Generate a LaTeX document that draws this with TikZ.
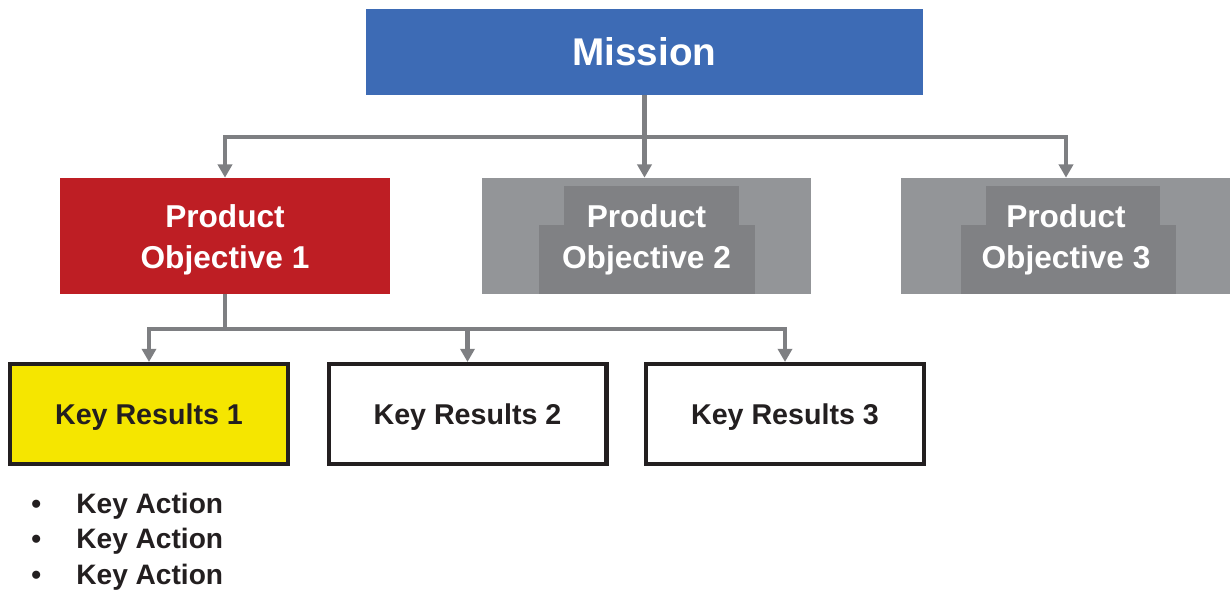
\documentclass[tikz,border=0pt]{standalone}
\usepackage{fontspec}
\setmainfont{Liberation Sans}
\usetikzlibrary{arrows.meta}

\definecolor{missionblue}{HTML}{3D6BB5}
\definecolor{objred}{HTML}{BE1E24}
\definecolor{objgrey}{HTML}{939598}
\definecolor{objgreydark}{HTML}{808184}
\definecolor{resyellow}{HTML}{F5E600}
\definecolor{linkgrey}{HTML}{7E7F82}
\definecolor{inkdark}{HTML}{231F20}

\tikzset{
  missionbox/.style={fill=missionblue, text=white, minimum width=11.14cm, minimum height=1.72cm,
    font=\fontsize{22}{26}\selectfont\bfseries},
  objbox/.style={minimum width=6.6cm, minimum height=2.32cm},
  objtext/.style={text=white, align=center, font=\fontsize{18}{23}\selectfont\bfseries},
  resbox/.style={draw=inkdark, line width=2.3pt, fill=white, text=inkdark, minimum width=5.56cm,
    minimum height=2cm, text depth=0pt, font=\fontsize{16.3}{19}\selectfont\bfseries},
  link/.style={draw=linkgrey, line width=2.5pt},
  linkarrow/.style={link, -{Triangle[width=8pt,length=7.5pt]}},
  actionitem/.style={anchor=base west, text=inkdark, font=\fontsize{16}{19}\selectfont\bfseries, inner sep=0pt}
}

\begin{document}
\begin{tikzpicture}[x=0.02cm,y=-0.02cm]

\useasboundingbox (0,0) rectangle (1230,590);

\node[missionbox] (mission) at (644.5,52) {Mission};

% objectives
\node[objbox, fill=objred] (po1) at (225,236) {};
\node[objtext] (po1text) at (225,240) {Product\\Objective 1};

\node[objbox, fill=objgrey] (po2) at (646.5,236) {};
\fill[objgreydark] (564,186) rectangle (739,294);
\fill[objgreydark] (539,225) rectangle (755,294);
\node[objtext] (po2text) at (646.5,240) {Product\\Objective 2};

\node[objbox, fill=objgrey] (po3) at (1066,236) {};
\fill[objgreydark] (986,186) rectangle (1160,294);
\fill[objgreydark] (961,225) rectangle (1176,294);
\node[objtext] (po3text) at (1066,240) {Product\\Objective 3};

% key results
\node[resbox, fill=resyellow] (kr1) at (149,414) {Key Results 1};
\node[resbox] (kr2) at (467.5,414) {Key Results 2};
\node[resbox] (kr3) at (785,414) {Key Results 3};

\coordinate (topbus) at (644.5,137);
\coordinate (midbus) at (225,329);

\draw[link] (mission.south) -- (topbus);
\draw[linkarrow] (topbus) -| (po1.north);
\draw[linkarrow] (topbus) -- (po2.north -| topbus);
\draw[linkarrow] (topbus) -| (po3.north);

\draw[link] (po1.south) -- (midbus);
\draw[linkarrow] (midbus) -| (kr1.north);
\draw[linkarrow] (midbus) -| (kr2.north);
\draw[linkarrow] (midbus) -| (kr3.north);

%\draw[dashed] (0,0) rectangle (1230,590);

% actions under key results 1
\node[actionitem] (bul1) at (31,514) {\textbullet};
\node[actionitem] (act1) at (76,514) {Key Action};
\node[actionitem] (bul2) at (31,549) {\textbullet};
\node[actionitem] (act2) at (76,549) {Key Action};
\node[actionitem] (bul3) at (31,584) {\textbullet};
\node[actionitem] (act3) at (76,584) {Key Action};

\end{tikzpicture}
\end{document}
